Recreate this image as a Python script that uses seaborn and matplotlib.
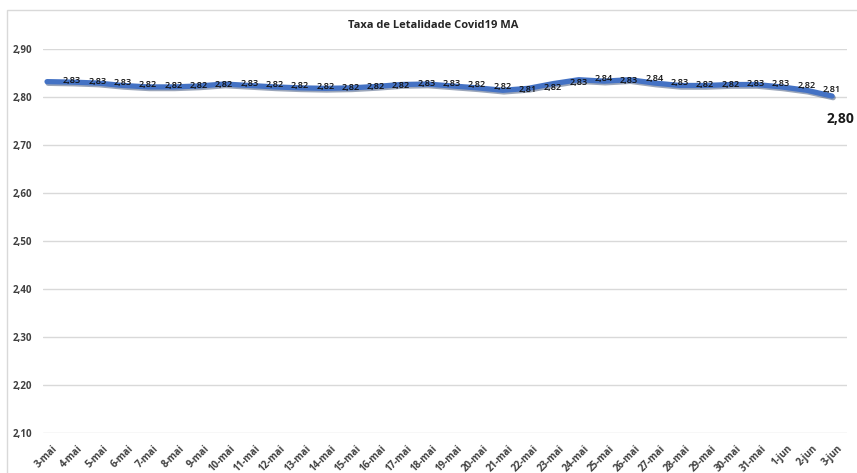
import matplotlib
matplotlib.use("Agg")
import matplotlib.pyplot as plt
import matplotlib.patheffects as pe
from matplotlib.patches import Rectangle
import matplotlib.transforms as mtransforms
import seaborn as sns
import pandas as pd

dates = ["3-mai", "4-mai", "5-mai", "6-mai", "7-mai", "8-mai", "9-mai", "10-mai",
         "11-mai", "12-mai", "13-mai", "14-mai", "15-mai", "16-mai", "17-mai", "18-mai",
         "19-mai", "20-mai", "21-mai", "22-mai", "23-mai", "24-mai", "25-mai", "26-mai",
         "27-mai", "28-mai", "29-mai", "30-mai", "31-mai", "1-jun", "2-jun", "3-jun"]
taxa = [2.832, 2.831, 2.829, 2.824, 2.821, 2.821, 2.823, 2.827,
        2.824, 2.821, 2.819, 2.818, 2.819, 2.822, 2.826, 2.827,
        2.823, 2.819, 2.814, 2.818, 2.828, 2.836, 2.833, 2.836,
        2.829, 2.824, 2.824, 2.826, 2.826, 2.821, 2.814, 2.802]
y_ticks = [2.10, 2.20, 2.30, 2.40, 2.50, 2.60, 2.70, 2.80, 2.90]

df = pd.DataFrame({"pos": range(len(dates)), "taxa": taxa})


def br(v):
    return f"{v:.2f}".replace(".", ",")


sns.set_style("white")
plt.rcParams["font.family"] = ["Open Sans", "DejaVu Sans"]

fig = plt.figure(figsize=(8.57, 4.73), dpi=100)
ax = fig.add_axes([43 / 857, 1 - 433 / 473, 804 / 857, 384 / 473])

# chart area border (cropped on the right/bottom)
fig.patches.append(Rectangle((7 / 857, -0.1), 1.2, 1.1 - 10 / 473, transform=fig.transFigure,
                             fill=False, edgecolor="#D9D9D9", linewidth=1))

sns.lineplot(data=df, x="pos", y="taxa", ax=ax, color="#4472C4", linewidth=3.8,
             solid_capstyle="round", solid_joinstyle="round",
             path_effects=[pe.SimpleLineShadow(offset=(0.8, -1.2), shadow_color="#1F3864", alpha=0.45),
                           pe.Normal()])

ax.set_xlim(-0.16, 31.59)
ax.set_ylim(2.10, 2.90)
ax.set_yticks(y_ticks)
ax.set_yticklabels([br(v) for v in y_ticks])
ax.set_xticks(df["pos"])
ax.set_xticklabels(dates, rotation=45, ha="right", va="center", rotation_mode="anchor")
ax.grid(axis="y", color="#D9D9D9", linewidth=1)
ax.set_axisbelow(True)
for s in ax.spines.values():
    s.set_visible(False)
ax.tick_params(axis="both", length=0, labelsize=7, labelcolor="#404040")
ax.tick_params(axis="y", pad=8)
ax.tick_params(axis="x", pad=10)
for lbl in ax.get_yticklabels() + ax.get_xticklabels():
    lbl.set_fontweight("bold")
shift = mtransforms.ScaledTranslation(9 / 100, 0, fig.dpi_scale_trans)
for lbl in ax.get_xticklabels():
    lbl.set_transform(lbl.get_transform() + shift)
ax.set_xlabel("")
ax.set_ylabel("")

# data labels
for i, v in enumerate(taxa[:-1]):
    ax.annotate(br(v), (i, v), xytext=(25, 1), textcoords="offset pixels",
                ha="center", va="center", fontsize=6.6, fontweight="semibold", color="#111111")
ax.annotate(br(taxa[-1]), (len(taxa) - 1, taxa[-1]), xytext=(8, -23),
            textcoords="offset pixels", ha="center", va="center", fontsize=10,
            fontweight="bold", color="#1A1A1A", annotation_clip=False)

fig.text(433 / 857, 1 - 26 / 473, "Taxa de Letalidade Covid19 MA", ha="center", va="center",
         fontsize=8, fontweight="bold", color="#262626")

fig.savefig("out.png", dpi=100)
